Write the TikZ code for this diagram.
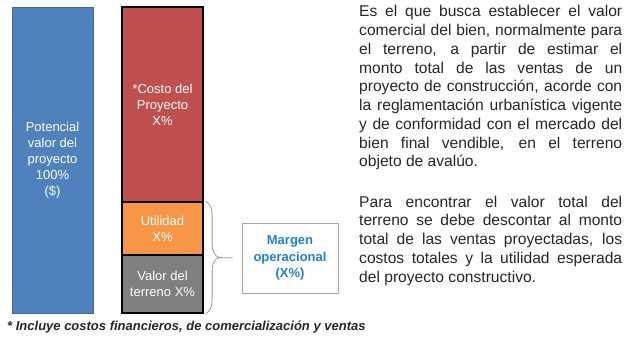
\documentclass[tikz,border=0pt]{standalone}
\usepackage{fontspec}
\setmainfont{Liberation Sans}
\usetikzlibrary{decorations.pathreplacing}

\definecolor{barblue}{HTML}{4F81BD}
\definecolor{barred}{HTML}{C0504D}
\definecolor{barorange}{HTML}{F79646}
\definecolor{bargray}{HTML}{7F7F7F}
\definecolor{textgray}{HTML}{262626}
\definecolor{margblue}{HTML}{1F7FD6}

\begin{document}
\begin{tikzpicture}[x = 1pt, y = -1pt,
    bar/.style = {draw = black, line width = 1.2pt, minimum width = 81pt, inner sep = 0pt,
                  align = center, text = white, font = \fontsize{13}{16}\selectfont},
    para/.style = {anchor = base west, text width = 263pt, align = justify, inner sep = 0pt,
                   text = textgray, font = \fontsize{15.6}{18.75}\selectfont},
    bracegray/.style = {draw = gray!80, line width = 0.8pt}]
    \useasboundingbox (0, 0) rectangle (629, 337);

    \node[bar, fill = barblue, draw = barblue!80!black, line width = 0.6pt, minimum height = 306pt]
      (potencial) at (52.5, 160) {Potencial\\valor del\\proyecto\\100\%\\(\$)};

    \node[bar, fill = barred, minimum height = 195pt] (costo) at (162.5, 104.5)
      {*Costo del\\Proyecto\\X\%};
    \node[bar, fill = barorange, minimum height = 53pt] (utilidad) at (162.5, 228.5)
      {Utilidad\\X\%};
    \node[bar, fill = bargray, minimum height = 58pt] (terreno) at (162.5, 284)
      {Valor del\\terreno X\%};

    \node[draw = gray!70, line width = 0.6pt, minimum width = 96pt, minimum height = 70pt,
      align = center, text = margblue, font = \bfseries\fontsize{13}{16.5}\selectfont]
      (margen) at (290, 258) {Margen\\operacional\\(X\%)};

    \draw[bracegray, decorate, decoration = {brace, amplitude = 13pt}]
      ([xshift = 2pt]utilidad.north east) -- ([xshift = 2pt]terreno.south east);
    \coordinate (tip) at (218, 257.5);
    \draw[bracegray] (tip) -- ([xshift = -9pt]margen.west);

    \node[para] (texto1) at (359, 17) {\tolerance=9999
      Es el que busca establecer el valor\linebreak
      comercial del bien, normalmente para\linebreak
      el terreno, a partir de estimar el\linebreak
      monto total de las ventas de un\linebreak
      proyecto de construcción, acorde con\linebreak
      la reglamentación urbanística vigente\linebreak
      y de conformidad con el mercado del\linebreak
      bien final vendible, en el terreno\linebreak
      objeto de avalúo.};

    \node[para] (texto2) at (359, 207) {\tolerance=9999
      Para encontrar el valor total del\linebreak
      terreno se debe descontar al monto\linebreak
      total de las ventas proyectadas, los\linebreak
      costos totales y la utilidad esperada\linebreak
      del proyecto constructivo.};

    \node[anchor = base west, inner sep = 0pt, text = textgray,
      font = \bfseries\itshape\fontsize{13}{15}\selectfont]
      (nota) at (7, 330) {* Incluye costos financieros, de comercialización y ventas};
  \end{tikzpicture}
\end{document}
